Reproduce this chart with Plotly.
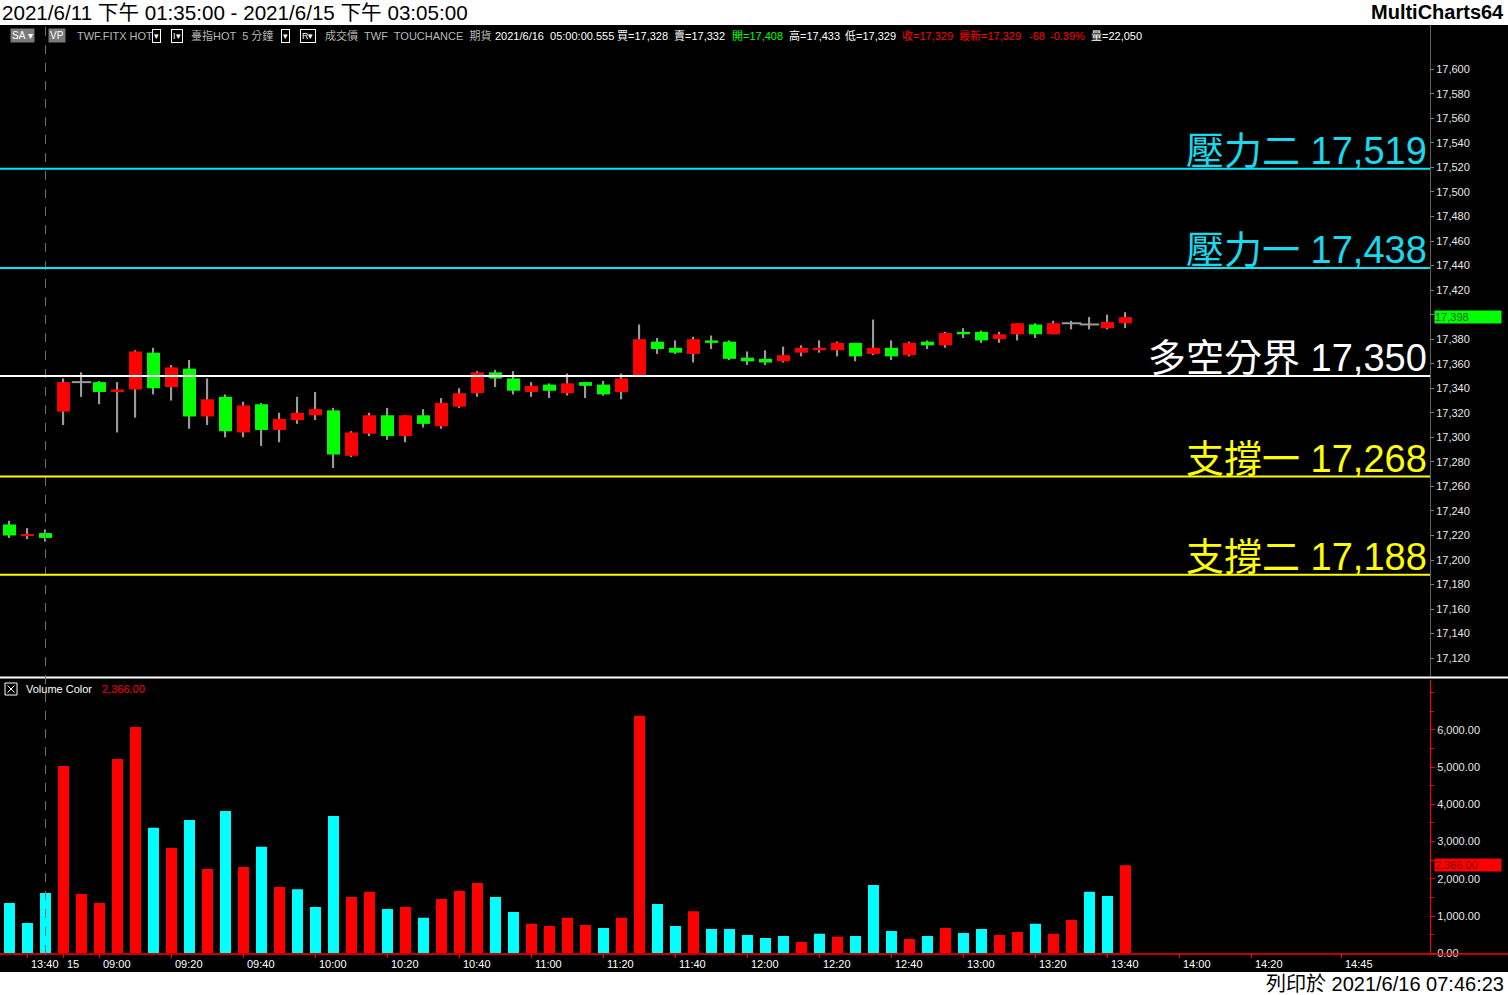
import plotly.graph_objects as go

W, H = 1508, 995

# ---------------- data ----------------
bar_dates = ["2021/6/11"] * 3 + ["2021/6/15"] * 60

opens = [17229, 17220, 17222, 17321, 17345, 17345, 17337, 17339, 17369, 17341,
         17356, 17317, 17333, 17304, 17327, 17306, 17314, 17318, 17322, 17285,
         17303, 17318, 17301, 17318, 17309, 17325, 17336, 17353, 17348, 17337,
         17343, 17336, 17345, 17343, 17337, 17350, 17378, 17373, 17368, 17379,
         17378, 17365, 17364, 17362, 17369, 17371, 17371, 17377, 17368, 17373,
         17367, 17378, 17375, 17386, 17386, 17380, 17384, 17392, 17384, 17393,
         17392, 17389, 17393]
highs = [17232, 17226, 17225, 17348, 17353, 17346, 17345, 17371, 17373, 17359,
         17363, 17348, 17335, 17329, 17328, 17320, 17333, 17337, 17324, 17305,
         17320, 17324, 17318, 17323, 17332, 17340, 17354, 17355, 17354, 17345,
         17344, 17352, 17345, 17346, 17352, 17392, 17381, 17379, 17382, 17383,
         17379, 17370, 17371, 17374, 17375, 17379, 17378, 17377, 17396, 17379,
         17378, 17379, 17386, 17389, 17387, 17386, 17393, 17393, 17395, 17395,
         17398, 17400, 17402]
lows = [17218, 17217, 17215, 17310, 17333, 17327, 17304, 17316, 17335, 17330,
        17307, 17310, 17300, 17300, 17293, 17296, 17311, 17314, 17275, 17284,
        17301, 17298, 17296, 17308, 17307, 17324, 17333, 17341, 17335, 17333,
        17332, 17334, 17332, 17334, 17331, 17350, 17368, 17368, 17361, 17372,
        17363, 17359, 17359, 17361, 17366, 17369, 17366, 17362, 17367, 17363,
        17366, 17372, 17373, 17381, 17377, 17377, 17379, 17381, 17384, 17388,
        17388, 17388, 17389]
closes = [17220, 17221, 17218, 17345, 17345, 17337, 17339, 17370, 17340, 17357,
          17317, 17331, 17305, 17326, 17306, 17315, 17320, 17323, 17286, 17304,
          17318, 17301, 17318, 17311, 17328, 17336, 17353, 17348, 17338, 17342,
          17338, 17344, 17342, 17335, 17348, 17380, 17372, 17369, 17380, 17377,
          17364, 17362, 17361, 17367, 17373, 17373, 17377, 17366, 17373, 17366,
          17377, 17375, 17385, 17384, 17379, 17384, 17393, 17384, 17393, 17393,
          17392, 17394, 17398]
volumes = [1350, 810, 1620, 5030, 1590, 1350, 5220, 6080, 3370, 2830,
           3580, 2260, 3820, 2320, 2860, 1780, 1720, 1240, 3690, 1510,
           1650, 1190, 1240, 950, 1460, 1670, 1890, 1510, 1110, 790,
           730, 950, 760, 680, 950, 6380, 1320, 730, 1130, 650,
           650, 490, 410, 460, 300, 520, 440, 460, 1830, 600,
           380, 460, 680, 540, 650, 490, 570, 790, 520, 890,
           1650, 1540, 2366]
# 1 = red volume bar, 0 = cyan volume bar
vol_red = [0, 0, 0, 1, 1, 1, 1, 1, 0, 1,
           0, 1, 0, 1, 0, 1, 0, 0, 0, 1,
           1, 0, 1, 0, 1, 1, 1, 0, 0, 1,
           1, 1, 1, 0, 1, 1, 0, 0, 1, 0,
           0, 0, 0, 0, 1, 0, 1, 0, 0, 0,
           1, 0, 1, 0, 0, 1, 1, 0, 1, 1,
           0, 0, 1]

tick_pos = [1, 3, 5, 9, 13, 17, 21, 25, 29, 33, 37, 41, 45, 49, 53, 57, 61, 65, 69, 74]
tick_text = ["13:40", "15", "09:00", "09:20", "09:40", "10:00", "10:20", "10:40", "11:00",
             "11:20", "11:40", "12:00", "12:20", "12:40", "13:00", "13:20", "13:40",
             "14:00", "14:20", "14:45"]

level_names = ["壓力二", "壓力一", "多空分界", "支撐一", "支撐二"]
level_values = [17519, 17438, 17350, 17268, 17188]

price_ticks = list(range(17120, 17601, 20))
vol_ticks = [0, 1000, 2000, 3000, 4000, 5000, 6000]

# ---------------- styles ----------------
CYAN_LINE = "#00E8F8"
CYAN_TXT = "#19D9EC"
level_line_colors = [CYAN_LINE, CYAN_LINE, "#FFFFFF", "#FFFF00", "#FFFF00"]
level_text_colors = [CYAN_TXT, CYAN_TXT, "#FFFFFF", "#FFFF00", "#FFFF00"]
UP = "#FF0000"
DN = "#00FF00"
WICK = "#9A9A9A"
FONT = "Liberation Sans, Arial, Noto Sans CJK TC, sans-serif"
CJK = "Liberation Sans, Noto Sans CJK TC, sans-serif"


def px(x):
    return x / W


def py(y):
    return 1 - y / H


n = len(opens)
idx = list(range(n))

body_base = [min(o, c) for o, c in zip(opens, closes)]
body_h = [abs(c - o) for o, c in zip(opens, closes)]
body_col = [UP if c > o else DN for o, c in zip(opens, closes)]
doji_x = [i for i in idx if opens[i] == closes[i]]
doji_y = [opens[i] for i in doji_x]

fig = go.Figure()

# wicks (as thin bars so bodies cover them)
fig.add_trace(go.Bar(x=idx, y=[h - l for h, l in zip(highs, lows)], base=lows,
                     width=0.07, marker=dict(color=WICK, line=dict(width=0)),
                     xaxis="x", yaxis="y", hoverinfo="skip", showlegend=False))
# bodies
fig.add_trace(go.Bar(x=idx, y=body_h, base=body_base, width=0.72,
                     marker=dict(color=body_col, line=dict(width=0)),
                     xaxis="x", yaxis="y", hoverinfo="skip", showlegend=False))
# doji crosses
fig.add_trace(go.Scatter(x=doji_x, y=doji_y, mode="markers",
                         marker=dict(symbol="line-ew", size=14,
                                     line=dict(color=WICK, width=2)),
                         xaxis="x", yaxis="y", hoverinfo="skip", showlegend=False))
# volume
fig.add_trace(go.Bar(x=idx, y=volumes, width=0.61,
                     marker=dict(color=[UP if r else "#00FFFF" for r in vol_red],
                                 line=dict(width=0)),
                     xaxis="x2", yaxis="y2", hoverinfo="skip", showlegend=False))

x_dom = [0, px(1430)]
x_rng = [(0 - 9.5) / 18, (1430 - 9.5) / 18]
p_lo = 17350 - (677 - 376) / 1.2268
p_hi = 17350 + (376 - 25) / 1.2268
v_hi = (953.2 - 680) * 26.88

axis_font = dict(family=FONT, size=11, color="#E8E8E8")

fig.update_layout(
    width=W, height=H,
    margin=dict(l=0, r=0, t=0, b=0, pad=0, autoexpand=False),
    paper_bgcolor="#FFFFFF",
    plot_bgcolor="#000000",
    barmode="overlay",
    hovermode=False,
    showlegend=False,
    xaxis=dict(domain=x_dom, range=x_rng, anchor="y", showticklabels=False,
               showgrid=False, zeroline=False, showline=False, ticks="", automargin=False),
    yaxis=dict(domain=[py(677), py(25)], range=[p_lo, p_hi], anchor="x", side="right",
               tickvals=price_ticks, tickformat=",d", tickfont=axis_font,
               ticks="outside", ticklen=3, tickcolor="#808080", automargin=False,
               showgrid=False, zeroline=False, showline=True, linecolor="#606060",
               linewidth=1),
    xaxis2=dict(domain=x_dom, range=x_rng, anchor="y2", showticklabels=False,
                tickvals=tick_pos, ticks="outside", ticklen=4, tickcolor="#FF0000",
                showgrid=False, zeroline=False, showline=False, automargin=False),
    yaxis2=dict(domain=[py(953.2), py(680)], range=[0, v_hi], anchor="x2", side="right",
                tickvals=vol_ticks, tickformat=",.2f", tickfont=axis_font,
                ticks="outside", ticklen=4, tickcolor="#FF0000", automargin=False,
                minor=dict(dtick=500, ticks="outside", ticklen=3, tickcolor="#FF0000"),
                showgrid=False, zeroline=False, showline=True, linecolor="#FF0000",
                linewidth=1),
)

shapes = []
# black chart area
shapes.append(dict(type="rect", xref="paper", yref="paper", x0=0, x1=1,
                   y0=py(972), y1=py(25), fillcolor="#000000", line=dict(width=0),
                   layer="below"))
# panel separator
shapes.append(dict(type="line", xref="paper", yref="paper", x0=0, x1=1,
                   y0=py(677.5), y1=py(677.5), line=dict(color="#FFFFFF", width=2)))
# volume baseline
shapes.append(dict(type="line", xref="paper", yref="paper", x0=0, x1=1,
                   y0=py(954), y1=py(954), line=dict(color="#FF0000", width=1.5)))
# session separator (last bar of previous session)
sep_i = max(i for i in idx if bar_dates[i] == bar_dates[0])
shapes.append(dict(type="line", xref="x", yref="paper", x0=sep_i, x1=sep_i,
                   y0=py(954), y1=py(25), line=dict(color="#707070", width=1, dash="dash")))
# level lines
for v, c in zip(level_values, level_line_colors):
    shapes.append(dict(type="line", xref="paper", yref="y", x0=0, x1=px(1430),
                       y0=v, y1=v, line=dict(color=c, width=2), layer="above"))
# volume legend box with cross
shapes.append(dict(type="rect", xref="paper", yref="paper", x0=px(5), x1=px(17),
                   y0=py(695), y1=py(683), line=dict(color="#FFFFFF", width=1)))
shapes.append(dict(type="line", xref="paper", yref="paper", x0=px(7.5), x1=px(14.5),
                   y0=py(692.5), y1=py(685.5), line=dict(color="#FFFFFF", width=1)))
shapes.append(dict(type="line", xref="paper", yref="paper", x0=px(7.5), x1=px(14.5),
                   y0=py(685.5), y1=py(692.5), line=dict(color="#FFFFFF", width=1)))

ann = []
# level labels
for name, v, c in zip(level_names, level_values, level_text_colors):
    ann.append(dict(text=f"{name} {v:,}", xref="paper", yref="y", x=px(1429), y=v,
                    xanchor="right", yanchor="bottom", yshift=-5, showarrow=False,
                    font=dict(family=CJK, size=38, color=c)))
# x tick labels
for p, t in zip(tick_pos, tick_text):
    ann.append(dict(text=t, xref="x2", yref="paper", x=p, y=py(964), xanchor="left",
                    yanchor="middle", xshift=1, showarrow=False,
                    font=dict(family=FONT, size=11, color="#FFFFFF")))
# title strip
ann.append(dict(text="2021/6/11 下午 01:35:00 - 2021/6/15 下午 03:05:00", xref="paper",
                yref="paper", x=0, y=py(12.5), xanchor="left", yanchor="middle",
                showarrow=False, font=dict(family=CJK, size=20.6, color="#000000")))
ann.append(dict(text="<b>MultiCharts64</b>", xref="paper", yref="paper", x=px(1506),
                y=py(12.5), xanchor="right", yanchor="middle", showarrow=False,
                font=dict(family=FONT, size=20, color="#000000")))
ann.append(dict(text="列印於 2021/6/16 07:46:23", xref="paper", yref="paper", x=px(1506),
                y=py(984), xanchor="right", yanchor="middle", showarrow=False,
                font=dict(family=CJK, size=20, color="#000000")))

# header line inside chart
GRAY = "#B8B8B8"
hdr_y = py(36)
header_items = [
    (75, "TWF.FITX HOT", GRAY),
    (189, "臺指HOT  5 分鐘", GRAY),
    (323, "成交價  TWF  TOUCHANCE  期貨", GRAY),
    (493, "2021/6/16  05:00:00.555", "#FFFFFF"),
    (615, "買=17,328", "#FFFFFF"),
    (672, "賣=17,332", "#FFFFFF"),
    (730, "開=17,408", "#00FF00"),
    (787, "高=17,433", "#FFFFFF"),
    (843, "低=17,329", "#FFFFFF"),
    (900, "收=17,329", "#FF0000"),
    (957, "最新=17,329", "#FF0000"),
    (1027, "-68", "#FF0000"),
    (1048, "-0.39%", "#FF0000"),
    (1089, "量=22,050", "#FFFFFF"),
]
for x, t, c in header_items:
    ann.append(dict(text=t, xref="paper", yref="paper", x=px(x), y=hdr_y,
                    xanchor="left", yanchor="middle", showarrow=False,
                    font=dict(family=CJK, size=11, color=c)))
for x, t, bg in [(10, "SA ▾", "#7A7A7A"), (48, "VP", "#7A7A7A")]:
    ann.append(dict(text=t, xref="paper", yref="paper", x=px(x), y=hdr_y,
                    xanchor="left", yanchor="middle", showarrow=False, bgcolor=bg,
                    borderpad=1, font=dict(family=FONT, size=10, color="#FFFFFF")))
for x, t in [(152, "▾"), (171, "I▾"), (281, "▾"), (300, "R▾")]:
    ann.append(dict(text=t, xref="paper", yref="paper", x=px(x), y=hdr_y,
                    xanchor="left", yanchor="middle", showarrow=False,
                    bordercolor="#FFFFFF", borderwidth=1, borderpad=1,
                    font=dict(family=FONT, size=9, color="#FFFFFF")))

# volume legend text
ann.append(dict(text="Volume Color", xref="paper", yref="paper", x=px(24), y=py(689),
                xanchor="left", yanchor="middle", showarrow=False,
                font=dict(family=FONT, size=11, color="#FFFFFF")))
ann.append(dict(text=f"{volumes[-1]:,.2f}", xref="paper", yref="paper", x=px(100), y=py(689),
                xanchor="left", yanchor="middle", showarrow=False,
                font=dict(family=FONT, size=11, color="#FF0000")))

# last value tags on right axis
ann.append(dict(text=f"{closes[-1]:,}", xref="paper", yref="y", x=px(1434), y=closes[-1],
                xanchor="left", yanchor="middle", showarrow=False, bgcolor="#00FF00",
                width=66, align="left", borderpad=0,
                font=dict(family=FONT, size=11, color="#006000")))
ann.append(dict(text=f"{volumes[-1]:,.2f}", xref="paper", yref="y2", x=px(1434), y=volumes[-1],
                xanchor="left", yanchor="middle", showarrow=False, bgcolor="#FF0000",
                width=66, align="left", borderpad=0,
                font=dict(family=FONT, size=11, color="#800000")))

fig.update_layout(shapes=shapes, annotations=ann)

fig.write_html("out.html", config={"displayModeBar": False},
               post_script="document.body.style.margin='0';document.body.style.overflow='hidden';")
